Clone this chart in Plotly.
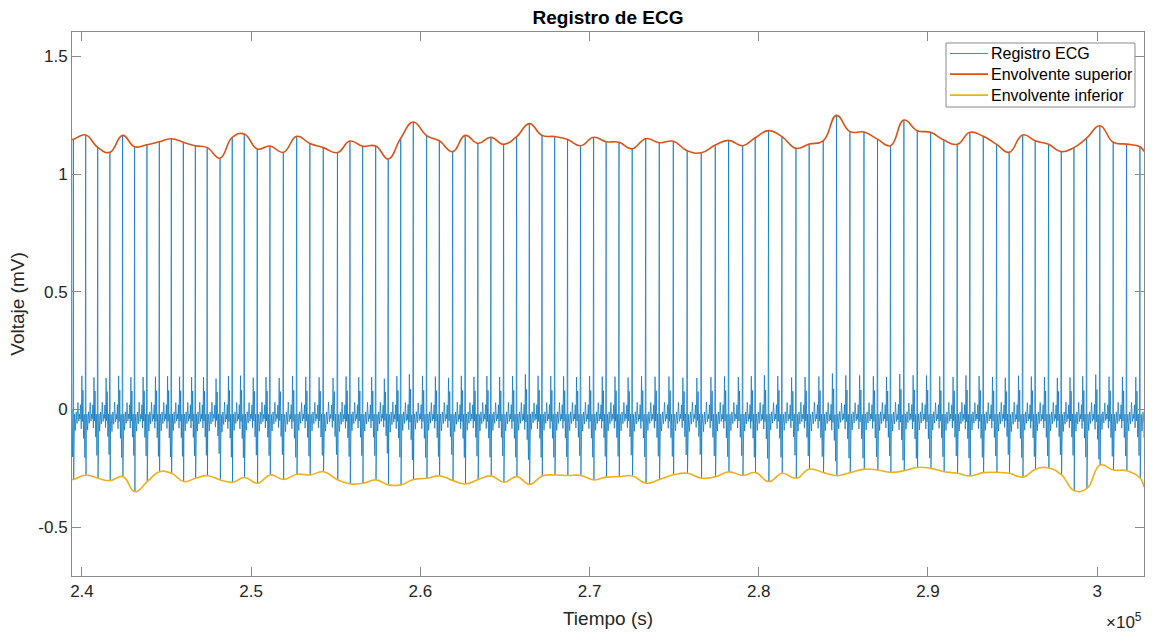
import plotly.graph_objects as go

# ---- data ----
beat_t = [239490, 240220, 240930, 241650, 242400, 243110, 243840, 244570, 245280, 245990,
          246700, 247400, 248160, 248880, 249590, 250360, 251110, 251900, 252690, 253470,
          254260, 255100, 255840, 256590, 257360, 258100, 258840, 259580, 260370, 261120,
          261910, 262650, 263400, 264170, 264920, 265690, 266440, 267190, 267940, 268700,
          269470, 270240, 270980, 271740, 272520, 273320, 274120, 274950, 275770, 276600,
          277430, 278220, 279050, 279790, 280580, 281370, 282200, 282980, 283810, 284600,
          285390, 286220, 287020, 287790, 288580, 289370, 290160, 290940, 291730, 292480,
          293270, 294060, 294800, 295600, 296340, 297130, 297880, 298630, 299380, 300160,
          300950, 301740, 302530]

r_amp = [1.147, 1.166, 1.113, 1.092, 1.164, 1.116, 1.124, 1.137, 1.150, 1.135,
         1.120, 1.112, 1.067, 1.156, 1.170, 1.106, 1.119, 1.092, 1.160, 1.130,
         1.112, 1.091, 1.140, 1.118, 1.119, 1.064, 1.152, 1.221, 1.163, 1.141,
         1.095, 1.164, 1.130, 1.156, 1.126, 1.159, 1.214, 1.164, 1.159, 1.147,
         1.120, 1.156, 1.137, 1.135, 1.107, 1.150, 1.133, 1.139, 1.099, 1.090,
         1.123, 1.143, 1.120, 1.154, 1.184, 1.159, 1.109, 1.127, 1.141, 1.249,
         1.180, 1.178, 1.148, 1.120, 1.229, 1.184, 1.177, 1.144, 1.126, 1.177,
         1.160, 1.126, 1.092, 1.166, 1.141, 1.126, 1.095, 1.112, 1.152, 1.205,
         1.135, 1.127, 1.116]

s_amp = [-0.297, -0.278, -0.292, -0.302, -0.285, -0.349, -0.306, -0.264, -0.271, -0.306,
         -0.292, -0.281, -0.299, -0.309, -0.289, -0.313, -0.278, -0.297, -0.275, -0.278,
         -0.264, -0.299, -0.316, -0.313, -0.299, -0.320, -0.320, -0.297, -0.292, -0.282,
         -0.302, -0.316, -0.297, -0.282, -0.309, -0.285, -0.318, -0.282, -0.278, -0.280,
         -0.280, -0.299, -0.287, -0.285, -0.282, -0.313, -0.297, -0.277, -0.271, -0.292,
         -0.285, -0.265, -0.280, -0.268, -0.306, -0.271, -0.292, -0.253, -0.268, -0.281,
         -0.268, -0.253, -0.257, -0.267, -0.260, -0.246, -0.250, -0.264, -0.271, -0.282,
         -0.268, -0.267, -0.271, -0.287, -0.254, -0.248, -0.278, -0.345, -0.335, -0.236,
         -0.257, -0.260, -0.292]

# beat waveform shape: position as a fraction of the RR interval, amplitude in mV
pre_frac = [-0.46, -0.41, -0.36, -0.31, -0.27, -0.22, -0.17, -0.12, -0.07, -0.035]
pre_val = [-0.04, 0.02, -0.08, 0.14, -0.05, 0.08, -0.12, -0.02, -0.20, -0.04]
post_frac = [0.05, 0.10, 0.16, 0.23, 0.30, 0.37, 0.44, 0.50]
post_val = [-0.06, -0.02, -0.09, -0.01, -0.06, 0.03, -0.05, -0.02]

t_start, t_end = 239410, 302770
x_ticks = [240000, 250000, 260000, 270000, 280000, 290000, 300000]
x_ticktext = ["2.4", "2.5", "2.6", "2.7", "2.8", "2.9", "3"]
y_ticks = [-0.5, 0, 0.5, 1, 1.5]
y_ticktext = ["-0.5", "0", "0.5", "1", "1.5"]

series_names = ["Registro ECG", "Envolvente superior", "Envolvente inferior"]
series_colors = ["#0072BD", "#D95319", "#EDB120"]

# ---- build the ECG polyline from the beat table ----
ex, ey = [t_start], [0.0]
n = len(beat_t)
for i in range(n):
    t = beat_t[i]
    k = r_amp[i] / 1.14
    rr_prev = t - beat_t[i - 1] if i > 0 else beat_t[1] - beat_t[0]
    rr_next = beat_t[i + 1] - t if i < n - 1 else beat_t[-1] - beat_t[-2]
    for f, v in zip(pre_frac, pre_val):
        xx = t + f * rr_prev
        if xx > ex[-1]:
            ex.append(xx); ey.append(v * k)
    ex.append(t); ey.append(r_amp[i])
    ex.append(t + 18); ey.append(s_amp[i])
    for f, v in zip(post_frac, post_val):
        xx = t + f * rr_next
        if xx < t_end:
            ex.append(xx); ey.append(v / k)
ex.append(t_end); ey.append(-0.12)

s_t = [t + 18 for t in beat_t]

fig = go.Figure()
fig.add_trace(go.Scatter(x=ex, y=ey, mode="lines", name=series_names[0], showlegend=False,
                         line=dict(color=series_colors[0], width=0.7)))
fig.add_trace(go.Scatter(x=[t_start] + beat_t + [t_end],
                         y=[r_amp[0]] + r_amp + [r_amp[-1] - 0.02],
                         mode="lines", name=series_names[1], showlegend=False,
                         line=dict(color=series_colors[1], width=1.6, shape="spline", smoothing=1.3)))
fig.add_trace(go.Scatter(x=[t_start] + s_t + [t_end],
                         y=[s_amp[0]] + s_amp + [-0.33],
                         mode="lines", name=series_names[2], showlegend=False,
                         line=dict(color=series_colors[2], width=1.6, shape="spline", smoothing=1.3)))

FONT = "Liberation Sans, Arial, Helvetica"
axis_common = dict(showline=True, linecolor="#8a8a8a", linewidth=1, mirror="ticks",
                   ticks="inside", ticklen=9, tickcolor="#8a8a8a", showgrid=False,
                   zeroline=False, tickfont=dict(family=FONT, size=17, color="#262626"))

fig.update_layout(
    width=1153, height=637,
    margin=dict(l=72, r=9, t=32, b=61),
    paper_bgcolor="white", plot_bgcolor="white",
    title=dict(text="<b>Registro de ECG</b>", x=0.5, xref="paper", y=0.973, yanchor="middle",
               font=dict(family=FONT, size=19, color="#000000")),
    xaxis=dict(range=[t_start, t_end], tickvals=x_ticks, ticktext=x_ticktext,
               title=dict(text="Tiempo (s)", standoff=11,
                          font=dict(family=FONT, size=19, color="#262626")),
               **axis_common),
    yaxis=dict(range=[-0.707, 1.603], tickvals=y_ticks, ticktext=y_ticktext,
               title=dict(text="Voltaje (mV)", standoff=8,
                          font=dict(family=FONT, size=19, color="#262626")),
               **axis_common),
    showlegend=False,
)

# exponent label
fig.add_annotation(text="\u00d710<sup>5</sup>", x=1.0, y=-0.106, xref="paper", yref="paper",
                   xanchor="right", yanchor="bottom", showarrow=False,
                   font=dict(family=FONT, size=17, color="#262626"))

# legend box drawn in paper coordinates
bx0, bx1, by0, by1 = 0.8153, 0.9916, 0.8621, 0.9798
fig.add_shape(type="rect", xref="paper", yref="paper", x0=bx0, x1=bx1, y0=by0, y1=by1,
              line=dict(color="#8a8a8a", width=1), fillcolor="white", layer="above")
item_y = [0.9605, 0.9225, 0.8840]
item_w = [0.8, 1.6, 1.6]
for name, col, yy, w in zip(series_names, series_colors, item_y, item_w):
    fig.add_shape(type="line", xref="paper", yref="paper", x0=0.8190, x1=0.8545, y0=yy, y1=yy,
                  line=dict(color=col, width=w), layer="above")
    fig.add_annotation(text=name, x=0.8555, y=yy, xref="paper", yref="paper",
                       xanchor="left", yanchor="middle", showarrow=False,
                       font=dict(family=FONT, size=16, color="#000000"))

fig.write_html("out.html")
